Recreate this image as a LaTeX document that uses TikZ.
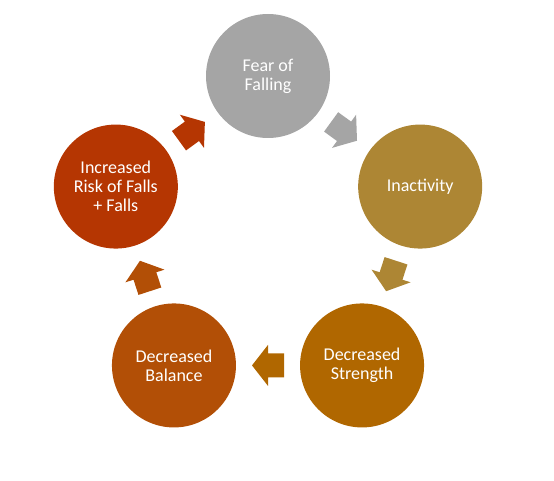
\documentclass[tikz,border=0pt]{standalone}
\usepackage{fontspec}
\setmainfont{Carlito}
\usetikzlibrary{calc}
\definecolor{FearGray}{HTML}{A5A5A5}
\definecolor{InactGold}{HTML}{AD8634}
\definecolor{StrengthOrange}{HTML}{B06700}
\definecolor{BalanceRust}{HTML}{B24F06}
\definecolor{RiskRed}{HTML}{B53602}

\begin{document}
\begin{tikzpicture}[x=1pt,y=1pt,
  cyc/.style={circle,minimum size=124pt,inner sep=0pt,text=white,align=center,
    font=\fontsize{18}{19}\selectfont}]
  \useasboundingbox (0,0) rectangle (554,480);
  \coordinate (o) at (268,244);
  % the five stages
  \node[cyc,fill=FearGray] (fear) at ($(o)+(90:160)$) {Fear of\\Falling};
  \node[cyc,fill=InactGold] (inact) at ($(o)+(18:160)$) {Inactivity};
  \node[cyc,fill=StrengthOrange] (strength) at ($(o)+(-54:160)$) {Decreased\\Strength};
  \node[cyc,fill=BalanceRust] (balance) at ($(o)+(-126:160)$) {Decreased\\Balance};
  \node[cyc,fill=RiskRed] (risk) at ($(o)+(162:160)$) {Increased\\Risk of Falls\\+ Falls};
  % block arrows between them
  \foreach \ang/\col in {90/FearGray,18/InactGold,-54/StrengthOrange,-126/BalanceRust,162/RiskRed}
    \fill[\col,shift={($(o)+(\ang-36:129.4)$)},rotate=\ang-126]
      (-16,-12) -- (0,-12) -- (0,-20.5) -- (16,0) -- (0,20.5) -- (0,12) -- (-16,12) -- cycle;
\end{tikzpicture}
\end{document}
